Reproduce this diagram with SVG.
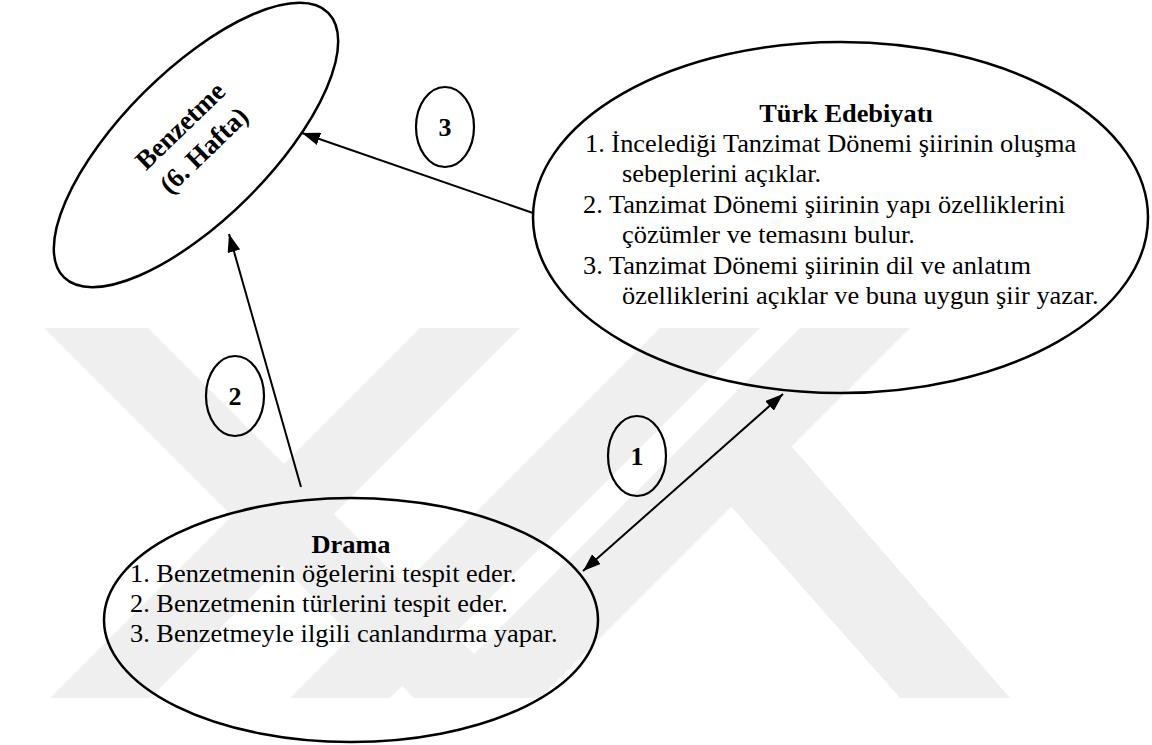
<svg xmlns="http://www.w3.org/2000/svg" width="1152" height="745" viewBox="0 0 1152 745">
<style>
.node{fill:none;stroke:#000;stroke-width:2.5}
.lbl{fill:none;stroke:#000;stroke-width:2.2}
.wm{fill:#efefef}
text{font-family:"Liberation Serif","Times New Roman",serif;fill:#000}
.t{font-size:25px}
.b{font-size:25px;font-weight:bold}
.bz{font-size:27px;font-weight:bold;text-anchor:middle}
.n{font-size:26px;font-weight:bold;text-anchor:middle}
.c{text-anchor:middle}
.edge{fill:none;stroke:#000;stroke-width:2}
</style>
<defs>
<marker id="ah" viewBox="0 0 18 13" refX="18" refY="6.5" markerWidth="18" markerHeight="13" markerUnits="userSpaceOnUse" orient="auto-start-reverse">
<path d="M0,0 L18,6.5 L0,13 z" fill="#000"/>
</marker>
</defs>
<rect width="1152" height="745" fill="#fff"/>
<g id="watermark">
<polygon class="wm" points="44,328 148,328 518,698 414,698"/>
<polygon class="wm" points="420,328 520,328 150,698 50,698"/>
<polygon class="wm" points="660,328 760,328 390,698 290,698"/>
<polygon class="wm" points="800,328 910,328 540,698 430,698"/>
<polygon class="wm" points="690,460 760,410 1010,698 900,698"/>
</g>
<g id="connectors">
<path class="edge" d="M533,213 L302,133" marker-end="url(#ah)"/>
<path class="edge" d="M301,487 L229,234" marker-end="url(#ah)"/>
<path class="edge" d="M583,571 L783,394" marker-start="url(#ah)" marker-end="url(#ah)"/>
</g>
<g id="benzetme">
<ellipse class="node" cx="196" cy="145" rx="187" ry="74" transform="rotate(-45 196 145)"/>
<g transform="translate(192,138) rotate(-44)">
<text class="bz" x="0" y="-8">Benzetme</text>
<text class="bz" x="0" y="26">(6. Hafta)</text>
</g>
</g>
<g id="turk">
<ellipse class="node" cx="840.5" cy="217.5" rx="307.5" ry="175.5"/>
<text class="b c" transform="translate(846,122) scale(1.055,1)">Türk Edebiyatı</text>
<text class="t" transform="translate(585,152) scale(1.055,1)">1. İncelediği Tanzimat Dönemi şiirinin oluşma</text>
<text class="t" transform="translate(622,182) scale(1.055,1)">sebeplerini açıklar.</text>
<text class="t" transform="translate(583,213) scale(1.055,1)">2. Tanzimat Dönemi şiirinin yapı özelliklerini</text>
<text class="t" transform="translate(622,243) scale(1.055,1)">çözümler ve temasını bulur.</text>
<text class="t" transform="translate(583,274) scale(1.055,1)">3. Tanzimat Dönemi şiirinin dil ve anlatım</text>
<text class="t" transform="translate(622,304) scale(1.055,1)">özelliklerini açıklar ve buna uygun şiir yazar.</text>
</g>
<g id="drama">
<ellipse class="node" cx="351" cy="620" rx="247" ry="122"/>
<text class="b c" transform="translate(351,553) scale(1.055,1)">Drama</text>
<text class="t" transform="translate(130,582) scale(1.055,1)">1. Benzetmenin öğelerini tespit eder.</text>
<text class="t" transform="translate(130,612) scale(1.055,1)">2. Benzetmenin türlerini tespit eder.</text>
<text class="t" transform="translate(130,642) scale(1.055,1)">3. Benzetmeyle ilgili canlandırma yapar.</text>
</g>
<g id="label3">
<ellipse class="lbl" cx="445" cy="127" rx="29" ry="40"/>
<text class="n" x="445" y="136">3</text>
</g>
<g id="label2">
<ellipse class="lbl" cx="235" cy="396" rx="29" ry="40"/>
<text class="n" x="235" y="405">2</text>
</g>
<g id="label1">
<ellipse class="lbl" cx="637" cy="456" rx="29" ry="40"/>
<text class="n" x="637" y="465">1</text>
</g>
</svg>
